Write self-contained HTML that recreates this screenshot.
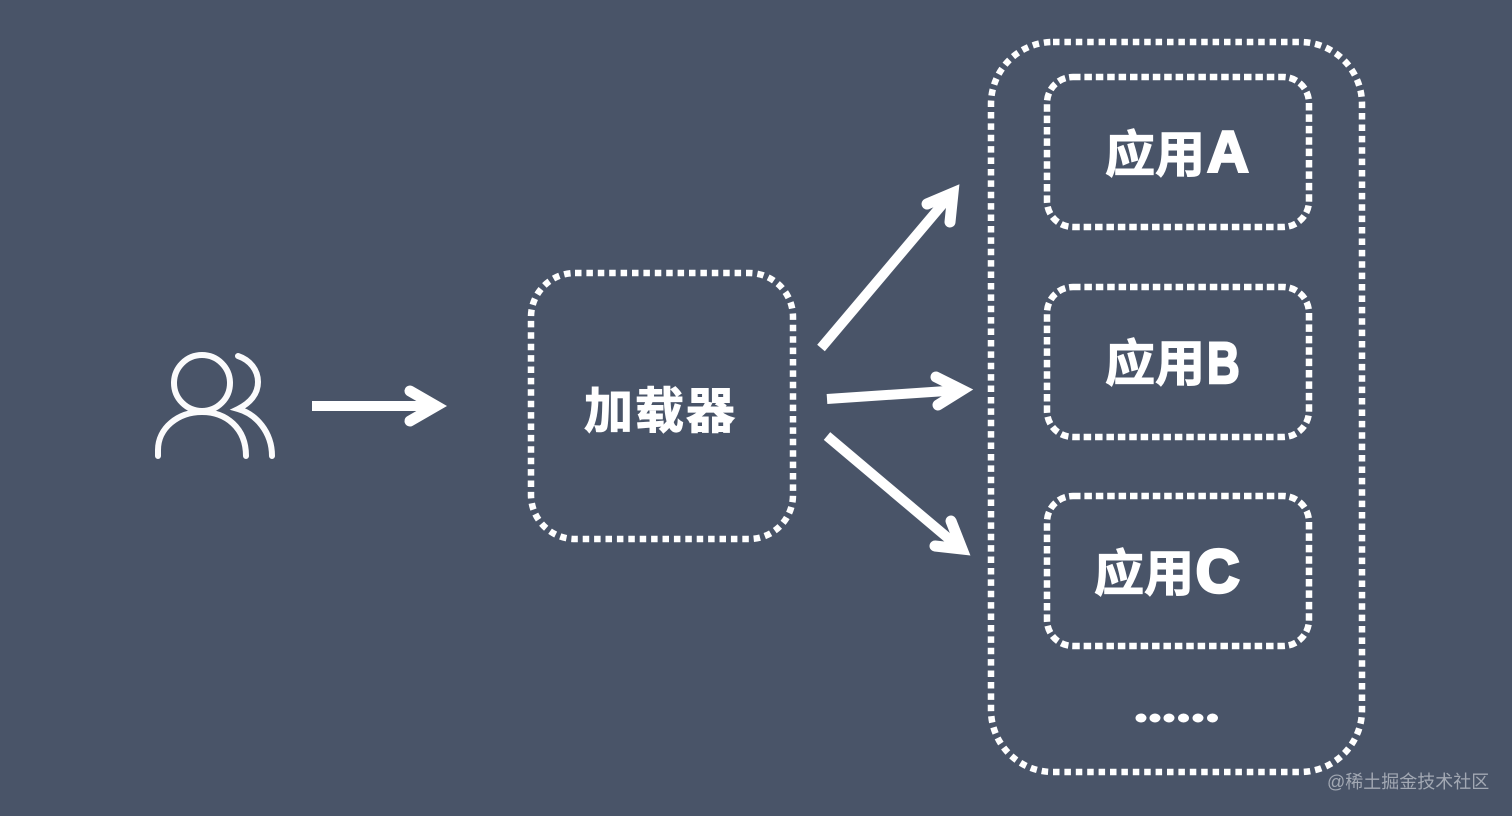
<!DOCTYPE html>
<html>
<head>
<meta charset="utf-8">
<style>
html,body{margin:0;padding:0;background:#495468;}
svg{display:block;}
text{font-family:"Liberation Sans","Noto Sans CJK SC",sans-serif;}
</style>
</head>
<body>
<svg width="1512" height="816" viewBox="0 0 1512 816" xmlns="http://www.w3.org/2000/svg">
<rect width="1512" height="816" fill="#495468"/>
<g fill="none" stroke="#fff" stroke-width="6.500" stroke-dasharray="6.500 4.900">
<rect x="991" y="42" width="371" height="730" rx="62" ry="62"/>
<rect x="1047" y="77" width="262" height="150" rx="26" ry="26" stroke-dasharray="7.500 3.900"/>
<rect x="1047" y="287" width="262" height="150" rx="26" ry="26" stroke-dasharray="7.500 3.900"/>
<rect x="1047" y="496" width="262" height="150" rx="26" ry="26" stroke-dasharray="7.500 3.900"/>
<rect x="531" y="273" width="262" height="266" rx="44" ry="44"/>
</g>
<g fill="none" stroke="#fbfbfc" stroke-width="6" stroke-linecap="round">
<circle cx="202" cy="383" r="28"/>
<path d="M158 456V450C158 428 178 412 202 412C226 412 246 428 246 456"/>
<path d="M238 356C250 360 258 370 258 382C258 394 250 403 238 409C256 414 272 432 272 456"/>
</g>
<g fill="none" stroke="#fff" stroke-width="10">
<path d="M312 406H436"/>
<path d="M821 348L952 193"/>
<path d="M827 399L961 390"/>
<path d="M827 436L961 549"/>
</g>
<g fill="none" stroke="#fff" stroke-width="11" stroke-linecap="round" stroke-linejoin="miter">
<path d="M410 391L436 406L410 421"/>
<path d="M927 204L953 193L950 222"/>
<path d="M936 377L962 390L938 405"/>
<path d="M951 521L962 549L935 546"/>
</g>
<g fill="#fff" stroke="#fff" stroke-width="1" font-weight="700">
<text x="1105" y="172" font-size="50">应用</text>
<text x="1105" y="381" font-size="50">应用</text>
<text x="1094" y="591" font-size="50">应用</text>
<text x="584" y="428" font-size="49" letter-spacing="2">加载器</text>
</g>
<g fill="#fff" stroke="#fff" stroke-width="2.500" font-weight="700">
<text x="1207" y="172" font-size="58">A</text>
<text transform="translate(1207 383) scale(0.78 1)" font-size="58">B</text>
<text x="1196" y="592" font-size="60" stroke-width="3.500">C</text>
</g>
<g fill="#fff">
<ellipse cx="1141" cy="718" rx="5.500" ry="4.500"/>
<ellipse cx="1155" cy="718" rx="5.500" ry="4.500"/>
<ellipse cx="1169" cy="718" rx="5.500" ry="4.500"/>
<ellipse cx="1183.500" cy="718" rx="5.500" ry="4.500"/>
<ellipse cx="1198" cy="718" rx="5.500" ry="4.500"/>
<ellipse cx="1212.500" cy="718" rx="5.500" ry="4.500"/>
</g>
<text x="1327" y="788" font-size="18" fill="#a2a8b3">@稀土掘金技术社区</text>
</svg>
</body>
</html>
